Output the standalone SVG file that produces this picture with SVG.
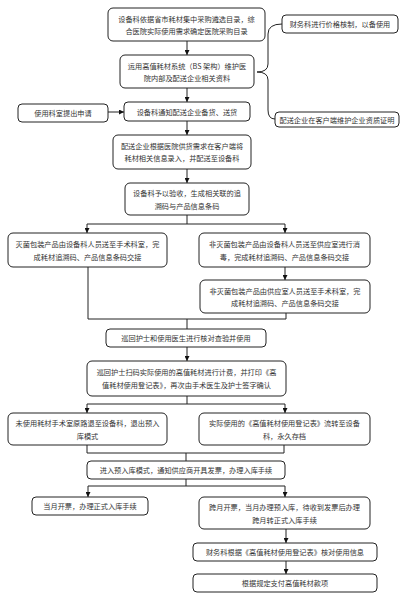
<svg xmlns="http://www.w3.org/2000/svg" width="416" height="600" viewBox="0 0 416 600">
<defs>
<marker id="ah" viewBox="0 0 8 8" refX="8" refY="4" markerWidth="5" markerHeight="5" orient="auto" markerUnits="userSpaceOnUse">
<path d="M0,0 L8,4 L0,8 Z" fill="#111"/>
</marker>
<style>
.b{fill:#fff;stroke:#222;stroke-width:1}
.t{font-family:"Noto Sans CJK SC","Noto Sans",sans-serif;font-size:7.2px;fill:#333;text-anchor:middle;dominant-baseline:central}
.c{fill:none;stroke:#222;stroke-width:1}
.a{fill:none;stroke:#222;stroke-width:1;marker-end:url(#ah)}
</style>
</defs>
<rect width="416" height="600" fill="#fff"/>
<g id="connectors">
<path class="a" d="M187,41 V55"/>
<path class="a" d="M187,88 V102"/>
<path class="a" d="M108,112 H124"/>
<path class="a" d="M187,121 V135"/>
<path class="a" d="M187,169 V183"/>
<path class="c" d="M187,215 V224 M87,224 H285"/>
<path class="a" d="M87,224 V233"/>
<path class="a" d="M285,224 V233"/>
<path class="a" d="M285,267 V280"/>
<path class="c" d="M88,267 V319 H286 V313 M187,319 V329"/>
<path class="a" d="M187,347 V361"/>
<path class="c" d="M187,396 V404 M87,404 H285"/>
<path class="a" d="M87,404 V413"/>
<path class="a" d="M285,404 V413"/>
<path class="c" d="M87,445 V453 H284 V445 M186,453 V461"/>
<path class="c" d="M186,479 V486 M88,486 H285"/>
<path class="a" d="M88,486 V497"/>
<path class="a" d="M285,486 V497"/>
<path class="a" d="M286,529 V543"/>
<path class="a" d="M286,561 V574"/>
<path class="c" d="M282,24 Q268,24 268,34 V64 Q268,72 257,72 Q268,72 268,80 V110 Q268,119 275,119"/>
</g>
<g id="n1"><rect class="b" x="108" y="8" width="157" height="33" rx="5"/>
<text class="t" x="186.5" y="18.5">设备科依据省市耗材集中采购遴选目录，综</text>
<text class="t" x="186.5" y="31">合医院实际使用需求确定医院采购目录</text></g>
<g id="n2"><rect class="b" x="282" y="15" width="116" height="18" rx="4"/>
<text class="t" x="340" y="24">财务科进行价格核制，以备使用</text></g>
<g id="n3"><rect class="b" x="120" y="55" width="134" height="33" rx="5"/>
<text class="t" x="187" y="65.5">运用高值耗材系统（BS 架构）维护医</text>
<text class="t" x="187" y="78">院内部及配送企业相关资料</text></g>
<g id="n4"><rect class="b" x="275" y="112" width="124" height="15" rx="4"/>
<text class="t" x="337" y="119.5">配送企业在客户端维护企业资质证明</text></g>
<g id="n5"><rect class="b" x="18" y="104" width="90" height="18" rx="4"/>
<text class="t" x="63" y="113">使用科室提出申请</text></g>
<g id="n6"><rect class="b" x="124" y="102" width="126" height="19" rx="4"/>
<text class="t" x="187" y="111.5">设备科通知配送企业备货、送货</text></g>
<g id="n7"><rect class="b" x="113" y="135" width="138" height="34" rx="5"/>
<text class="t" x="182" y="145.5">配送企业根据医院供货需求在客户端将</text>
<text class="t" x="182" y="158">耗材相关信息录入，并配送至设备科</text></g>
<g id="n8"><rect class="b" x="125" y="183" width="124" height="32" rx="5"/>
<text class="t" x="187" y="193">设备科予以验收，生成相关联的追</text>
<text class="t" x="187" y="205.5">溯码与产品信息条码</text></g>
<g id="n9"><rect class="b" x="8" y="233" width="159" height="34" rx="5"/>
<text class="t" x="87.5" y="243.5">灭菌包装产品由设备科人员送至手术科室，完</text>
<text class="t" x="87.5" y="256.5">成耗材追溯码、产品信息条码交接</text></g>
<g id="n10"><rect class="b" x="199" y="233" width="171" height="34" rx="5"/>
<text class="t" x="284.5" y="243.5">非灭菌包装产品由设备科人员送至供应室进行消</text>
<text class="t" x="284.5" y="256.5">毒，完成耗材追溯码、产品信息条码交接</text></g>
<g id="n11"><rect class="b" x="200" y="280" width="170" height="33" rx="5"/>
<text class="t" x="285" y="290.5">非灭菌包装产品由供应室人员送至手术科室，完</text>
<text class="t" x="285" y="303">成耗材追溯码、产品信息条码交接</text></g>
<g id="n12"><rect class="b" x="106" y="329" width="160" height="18" rx="4"/>
<text class="t" x="186" y="338">巡回护士和使用医生进行核对查验并使用</text></g>
<g id="n13"><rect class="b" x="87" y="361" width="199" height="35" rx="5"/>
<text class="t" x="186.5" y="372">巡回护士扫码实际使用的高值耗材进行计费，并打印《高</text>
<text class="t" x="186.5" y="385">值耗材使用登记表》，再次由手术医生及护士签字确认</text></g>
<g id="n14"><rect class="b" x="8" y="413" width="159" height="32" rx="5"/>
<text class="t" x="87.5" y="423">未使用耗材手术室原路退至设备科，退出预入</text>
<text class="t" x="87.5" y="436">库模式</text></g>
<g id="n15"><rect class="b" x="199" y="413" width="171" height="32" rx="5"/>
<text class="t" x="284.5" y="423">实际使用的《高值耗材使用登记表》流转至设备</text>
<text class="t" x="284.5" y="436">科，永久存档</text></g>
<g id="n16"><rect class="b" x="87" y="461" width="198" height="18" rx="4"/>
<text class="t" x="186" y="470">进入预入库模式，通知供应商开具发票，办理入库手续</text></g>
<g id="n17"><rect class="b" x="32" y="497" width="116" height="18" rx="4"/>
<text class="t" x="90" y="506">当月开票，办理正式入库手续</text></g>
<g id="n18"><rect class="b" x="199" y="497" width="171" height="32" rx="5"/>
<text class="t" x="284.5" y="507">跨月开票，当月办理预入库，待收到发票后办理</text>
<text class="t" x="284.5" y="520">跨月转正式入库手续</text></g>
<g id="n19"><rect class="b" x="193" y="543" width="184" height="18" rx="4"/>
<text class="t" x="285" y="552">财务科根据《高值耗材使用登记表》核对使用信息</text></g>
<g id="n20"><rect class="b" x="193" y="574" width="184" height="18" rx="4"/>
<text class="t" x="285" y="583">根据规定支付高值耗材款项</text></g>
</svg>
